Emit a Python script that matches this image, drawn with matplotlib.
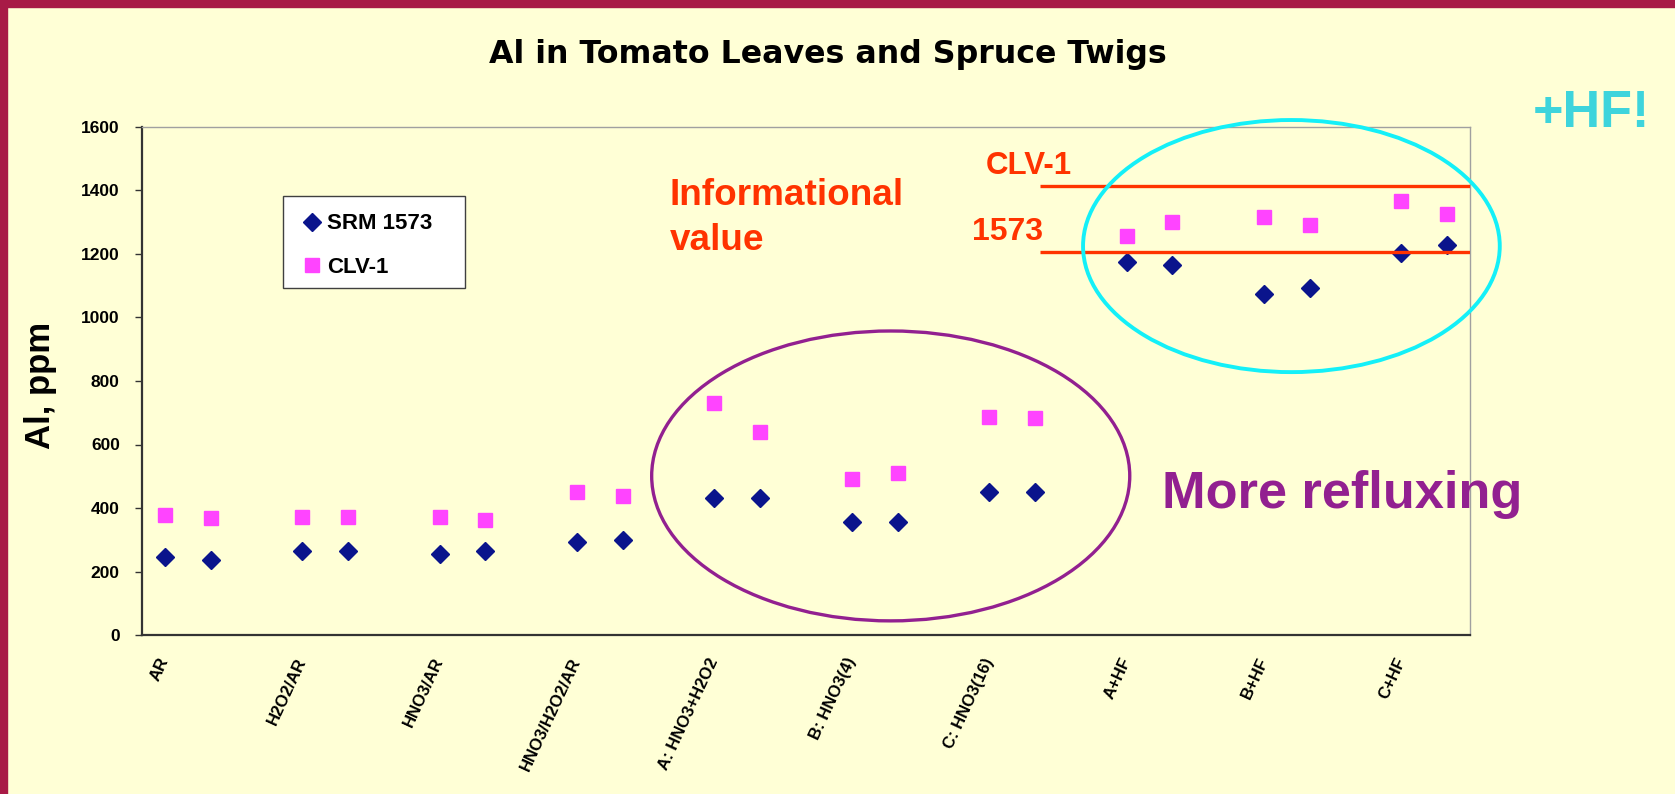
import matplotlib
matplotlib.use("Agg")
import matplotlib.pyplot as plt
from matplotlib.patches import Ellipse, Rectangle
from matplotlib import font_manager

# Al results, two replicate digestions per method
methods = ["AR", "H2O2/AR", "HNO3/AR", "HNO3/H2O2/AR", "A: HNO3+H2O2",
           "B: HNO3(4)", "C: HNO3(16)", "A+HF", "B+HF", "C+HF"]
srm_1573 = [247, 236, 264, 264, 254, 264, 292, 300, 432, 432,
            357, 357, 450, 450, 1176, 1165, 1073, 1092, 1204, 1227]
clv_1 = [377, 368, 372, 372, 372, 362, 449, 438, 730, 638,
         491, 510, 687, 682, 1258, 1302, 1316, 1291, 1368, 1325]
ref_values = {"CLV-1": 1415, "1573": 1205}
y_ticks = [0, 200, 400, 600, 800, 1000, 1200, 1400, 1600]

W, H = 1675, 794
BG = "#FFFFD6"
NAVY = "#0A148C"
PINK = "#FF44FF"
RED = "#FF3300"
PURPLE = "#922090"
CYAN = "#14F0F8"

installed = {f.name for f in font_manager.fontManager.ttflist}
NARROW = "Liberation Sans Narrow" if "Liberation Sans Narrow" in installed else "Liberation Sans"
plt.rcParams["font.family"] = ["Liberation Sans", "DejaVu Sans"]

fig = plt.figure(figsize=(W / 100, H / 100), dpi=100, facecolor=BG)

# slide frame on top and left edges
fig.patches.append(Rectangle((0, 1 - 7 / H), 1, 7 / H, transform=fig.transFigure,
                             color="#A81A46", zorder=0))
fig.patches.append(Rectangle((0, 0), 7 / W, 1, transform=fig.transFigure,
                             color="#A81A46", zorder=0))


def px(x0, y0, x1, y1):
    return [x0 / W, 1 - y1 / H, (x1 - x0) / W, (y1 - y0) / H]


ax = fig.add_axes(px(142, 127, 1470, 635))
ax.set_facecolor(BG)

# replicate pairs, with an empty slot between methods
xs = []
for i in range(len(methods)):
    xs += [3 * i, 3 * i + 1]

ax.plot(xs, srm_1573, ls="none", marker="D", ms=9.0, color=NAVY, mec=NAVY,
        label="SRM 1573", zorder=2)
ax.plot(xs, clv_1, ls="none", marker="s", ms=10.5, color=PINK, mec=PINK,
        label="CLV-1", zorder=2)

ax.set_xlim(-0.5, 28.5)
ax.set_ylim(0, 1600)
ax.set_yticks(y_ticks)
ax.set_yticklabels([str(v) for v in y_ticks], fontsize=12.5, fontweight="bold")
ax.tick_params(axis="y", direction="out", length=5, width=1, color="#333333", pad=11)
ax.set_xticks([3 * i for i in range(len(methods))])
ax.set_xticklabels(methods, fontsize=12, fontweight="bold", rotation=65,
                   ha="right", va="center", rotation_mode="anchor")
ax.tick_params(axis="x", length=0, pad=17)

for side in ("left", "bottom"):
    ax.spines[side].set_color("#333333")
    ax.spines[side].set_linewidth(1.6)
for side in ("top", "right"):
    ax.spines[side].set_color("#A0A0A0")
    ax.spines[side].set_linewidth(1.0)

ax.set_ylabel("Al, ppm", fontsize=25, fontweight="bold", family=[NARROW, "DejaVu Sans"])
ax.yaxis.set_label_coords(-0.0768, 0.492)
ax.yaxis.label.set_va("center")

# informational values
x_ref0 = 19.1
for name, val in ref_values.items():
    ax.hlines(val, x_ref0, 28.5, colors=RED, lw=2.4, zorder=3)
fig.text(986 / W, 1 - 174 / H, "CLV-1", color=RED, fontsize=22.5, fontweight="bold",
         va="baseline", ha="left")
fig.text(972 / W, 1 - 240 / H, "1573", color=RED, fontsize=23, fontweight="bold",
         va="baseline", ha="left")
fig.text(670 / W, 1 - 250 / H, "Informational\nvalue", color=RED, fontsize=26.6,
         fontweight="bold", va="baseline", ha="left", linespacing=1.37)

# groupings
ax.add_patch(Ellipse((15.85, 501), 10.44, 913, fill=False, ec=PURPLE, lw=2.4,
                     clip_on=False, zorder=4))
ax.add_patch(Ellipse((24.6, 1225), 9.1, 794, fill=False, ec=CYAN, lw=2.8,
                     clip_on=False, zorder=4))
fig.text(1162 / W, 1 - 508 / H, "More refluxing", color=PURPLE, fontsize=37.7,
         fontweight="bold", va="baseline", ha="left")
fig.text(1533 / W, 1 - 127 / H, "+HF!", color="#3ED4DC", fontsize=37.5,
         fontweight="bold", va="baseline", ha="left")

fig.text(828 / W, 1 - 63 / H, "Al in Tomato Leaves and Spruce Twigs", fontsize=22.8,
         fontweight="bold", family="DejaVu Sans", ha="center", va="baseline")

# legend box, drawn under the legend entries
ax.add_patch(Rectangle((283 / W, 1 - 288 / H), (465 - 283) / W, (288 - 196) / H,
                       transform=fig.transFigure, fc="white", ec="#404040",
                       lw=1.0, zorder=5, clip_on=False))
leg = ax.legend(loc="center left", bbox_to_anchor=(300 / W, 1 - 245.5 / H),
                bbox_transform=fig.transFigure, frameon=False, borderpad=0,
                borderaxespad=0, handlelength=1.05, handletextpad=0.15,
                labelspacing=1.0, prop={"size": 16, "weight": "bold"})
leg.set_zorder(6)

fig.savefig("out.png", dpi=100, facecolor=BG)
